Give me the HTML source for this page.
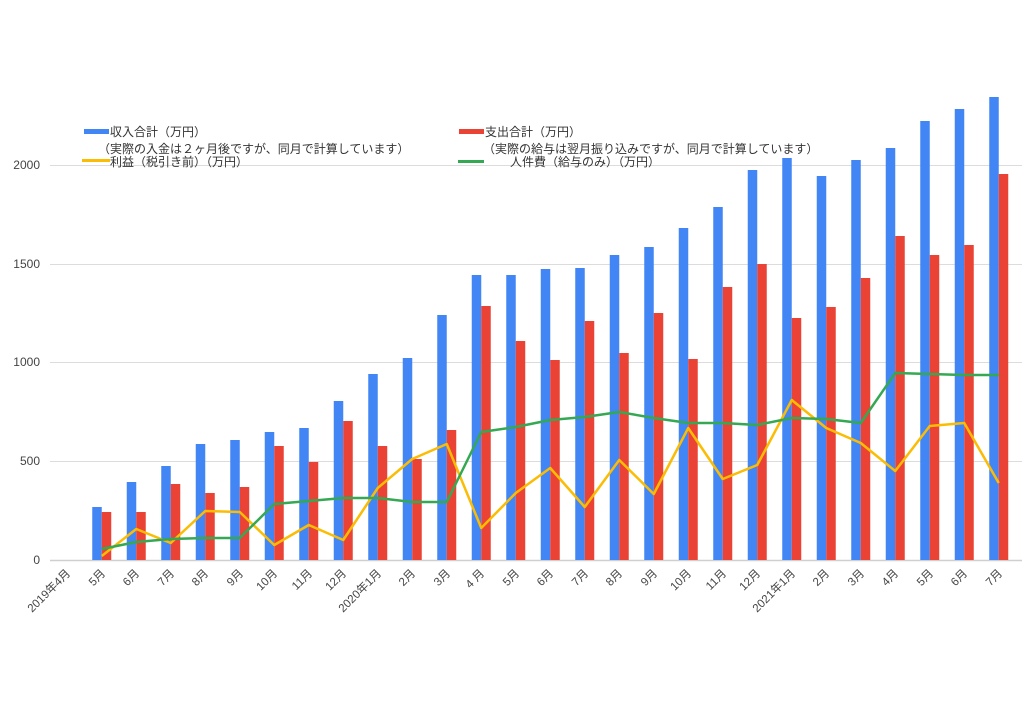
<!DOCTYPE html>
<html><head><meta charset="utf-8"><style>
html,body{margin:0;padding:0;background:#fff;}
svg{display:block;font-family:"Liberation Sans","Noto Sans CJK JP",sans-serif;}
</style></head><body>
<svg width="1024" height="724" viewBox="0 0 1024 724" xmlns="http://www.w3.org/2000/svg">
<rect width="1024" height="724" fill="#fff"/>
<g stroke="#dcdcdc" stroke-width="1">
<line x1="50" y1="165.5" x2="1022" y2="165.5"/>
<line x1="50" y1="264.5" x2="1022" y2="264.5"/>
<line x1="50" y1="362.5" x2="1022" y2="362.5"/>
<line x1="50" y1="461.5" x2="1022" y2="461.5"/>
</g>
<line x1="50" y1="560.5" x2="1022" y2="560.5" stroke="#cfcfcf" stroke-width="1.5"/>
<g font-size="12" fill="#444" text-anchor="end">
<text x="40" y="169">2000</text>
<text x="40" y="268">1500</text>
<text x="40" y="366">1000</text>
<text x="40" y="465">500</text>
<text x="40" y="564">0</text>
</g>
<g fill="#4285f4">
<rect x="92.25" y="507" width="9.5" height="53"/>
<rect x="126.75" y="482" width="9.5" height="78"/>
<rect x="161.25" y="466" width="9.5" height="94"/>
<rect x="195.75" y="444" width="9.5" height="116"/>
<rect x="230.25" y="440" width="9.5" height="120"/>
<rect x="264.75" y="432" width="9.5" height="128"/>
<rect x="299.25" y="428" width="9.5" height="132"/>
<rect x="333.75" y="401" width="9.5" height="159"/>
<rect x="368.25" y="374" width="9.5" height="186"/>
<rect x="402.75" y="358" width="9.5" height="202"/>
<rect x="437.25" y="315" width="9.5" height="245"/>
<rect x="471.75" y="275" width="9.5" height="285"/>
<rect x="506.25" y="275" width="9.5" height="285"/>
<rect x="540.75" y="269" width="9.5" height="291"/>
<rect x="575.25" y="268" width="9.5" height="292"/>
<rect x="609.75" y="255" width="9.5" height="305"/>
<rect x="644.25" y="247" width="9.5" height="313"/>
<rect x="678.75" y="228" width="9.5" height="332"/>
<rect x="713.25" y="207" width="9.5" height="353"/>
<rect x="747.75" y="170" width="9.5" height="390"/>
<rect x="782.25" y="158" width="9.5" height="402"/>
<rect x="816.75" y="176" width="9.5" height="384"/>
<rect x="851.25" y="160" width="9.5" height="400"/>
<rect x="885.75" y="148" width="9.5" height="412"/>
<rect x="920.25" y="121" width="9.5" height="439"/>
<rect x="954.75" y="109" width="9.5" height="451"/>
<rect x="989.25" y="97" width="9.5" height="463"/>
</g>
<g fill="#ea4335">
<rect x="101.75" y="512" width="9.5" height="48"/>
<rect x="136.25" y="512" width="9.5" height="48"/>
<rect x="170.75" y="484" width="9.5" height="76"/>
<rect x="205.25" y="493" width="9.5" height="67"/>
<rect x="239.75" y="487" width="9.5" height="73"/>
<rect x="274.25" y="446" width="9.5" height="114"/>
<rect x="308.75" y="462" width="9.5" height="98"/>
<rect x="343.25" y="421" width="9.5" height="139"/>
<rect x="377.75" y="446" width="9.5" height="114"/>
<rect x="412.25" y="459" width="9.5" height="101"/>
<rect x="446.75" y="430" width="9.5" height="130"/>
<rect x="481.25" y="306" width="9.5" height="254"/>
<rect x="515.75" y="341" width="9.5" height="219"/>
<rect x="550.25" y="360" width="9.5" height="200"/>
<rect x="584.75" y="321" width="9.5" height="239"/>
<rect x="619.25" y="353" width="9.5" height="207"/>
<rect x="653.75" y="313" width="9.5" height="247"/>
<rect x="688.25" y="359" width="9.5" height="201"/>
<rect x="722.75" y="287" width="9.5" height="273"/>
<rect x="757.25" y="264" width="9.5" height="296"/>
<rect x="791.75" y="318" width="9.5" height="242"/>
<rect x="826.25" y="307" width="9.5" height="253"/>
<rect x="860.75" y="278" width="9.5" height="282"/>
<rect x="895.25" y="236" width="9.5" height="324"/>
<rect x="929.75" y="255" width="9.5" height="305"/>
<rect x="964.25" y="245" width="9.5" height="315"/>
<rect x="998.75" y="174" width="9.5" height="386"/>
</g>
<polyline fill="none" stroke="#fbbc04" stroke-width="2.5" stroke-linejoin="round" points="101.75,556 136.25,529 170.75,543 205.25,511 239.75,512 274.25,545 308.75,525 343.25,540 377.75,488 412.25,459 446.75,444 481.25,528 515.75,493 550.25,468 584.75,507 619.25,460 653.75,494 688.25,428 722.75,479 757.25,465 791.75,400 826.25,428 860.75,443 895.25,471 929.75,426 964.25,423 998.75,483"/>
<polyline fill="none" stroke="#34a853" stroke-width="2.5" stroke-linejoin="round" points="101.75,549 136.25,542 170.75,539 205.25,538 239.75,538 274.25,504 308.75,501 343.25,498 377.75,498 412.25,502 446.75,502 481.25,432 515.75,427 550.25,420 584.75,417 619.25,412 653.75,418 688.25,423 722.75,423 757.25,425 791.75,418 826.25,419 860.75,423 895.25,373 929.75,374 964.25,375 998.75,375"/>
<g font-size="11.5" fill="#444" text-anchor="end">
<text transform="translate(71,574) rotate(-45)">2019年4月</text>
<text transform="translate(106,574) rotate(-45)">5月</text>
<text transform="translate(140,574) rotate(-45)">6月</text>
<text transform="translate(175,574) rotate(-45)">7月</text>
<text transform="translate(209,574) rotate(-45)">8月</text>
<text transform="translate(244,574) rotate(-45)">9月</text>
<text transform="translate(278,574) rotate(-45)">10月</text>
<text transform="translate(313,574) rotate(-45)">11月</text>
<text transform="translate(347,574) rotate(-45)">12月</text>
<text transform="translate(382,574) rotate(-45)">2020年1月</text>
<text transform="translate(416,574) rotate(-45)">2月</text>
<text transform="translate(451,574) rotate(-45)">3月</text>
<text transform="translate(485,574) rotate(-45)">4 月</text>
<text transform="translate(520,574) rotate(-45)">5月</text>
<text transform="translate(554,574) rotate(-45)">6月</text>
<text transform="translate(589,574) rotate(-45)">7月</text>
<text transform="translate(623,574) rotate(-45)">8月</text>
<text transform="translate(658,574) rotate(-45)">9月</text>
<text transform="translate(692,574) rotate(-45)">10月</text>
<text transform="translate(727,574) rotate(-45)">11月</text>
<text transform="translate(761,574) rotate(-45)">12月</text>
<text transform="translate(796,574) rotate(-45)">2021年1月</text>
<text transform="translate(830,574) rotate(-45)">2月</text>
<text transform="translate(865,574) rotate(-45)">3月</text>
<text transform="translate(899,574) rotate(-45)">4月</text>
<text transform="translate(934,574) rotate(-45)">5月</text>
<text transform="translate(968,574) rotate(-45)">6月</text>
<text transform="translate(1003,574) rotate(-45)">7月</text>
</g>
<g font-size="12" fill="#333">
<rect x="84" y="129" width="25" height="5" fill="#4285f4"/>
<text x="110" y="136">収入合計（万円）</text>
<text x="98" y="153">（実際の入金は２ヶ月後ですが、同月で計算しています）</text>
<rect x="82" y="159" width="28" height="3" fill="#fbbc04"/>
<text x="110" y="166">利益（税引き前）（万円）</text>
<rect x="459" y="129" width="25" height="5" fill="#ea4335"/>
<text x="485" y="136">支出合計（万円）</text>
<text x="483" y="153">（実際の給与は翌月振り込みですが、同月で計算しています）</text>
<rect x="458" y="160" width="26" height="3" fill="#34a853"/>
<text x="510" y="166">人件費（給与のみ）（万円）</text>
</g>
</svg>
</body></html>
